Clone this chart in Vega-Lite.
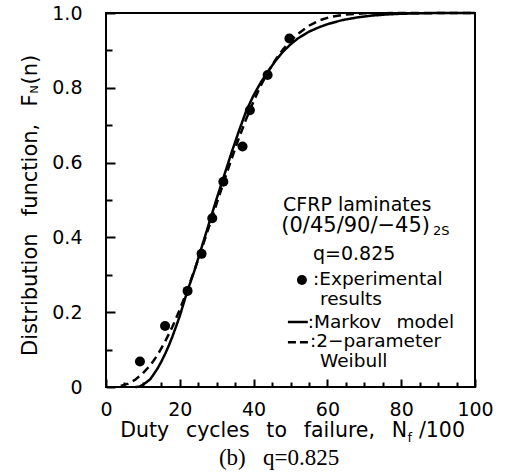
{
  "$schema": "https://vega.github.io/schema/vega-lite/v6.json",
  "width": 369,
  "height": 374,
  "autosize": {"type": "none"},
  "padding": {"left": 106, "top": 13, "right": 31, "bottom": 87},
  "background": "white",
  "config": {
    "view": {"stroke": "black", "strokeWidth": 2},
    "axis": {"labelFont": "DejaVu Sans", "labelFontSize": 19, "labelColor": "black", "tickColor": "black", "tickWidth": 2, "domain": false, "grid": false, "title": null, "labelFlush": false, "labelOverlap": false, "labelBound": false},
    "text": {"font": "DejaVu Sans", "color": "black"}
  },
  "datasets": {
    "one": [{}],
    "exp": [
      {"n": 9.2, "F": 0.068}, {"n": 16.0, "F": 0.163}, {"n": 22.1, "F": 0.257}, {"n": 25.9, "F": 0.356},
      {"n": 28.8, "F": 0.451}, {"n": 31.8, "F": 0.549}, {"n": 37.0, "F": 0.643}, {"n": 39.0, "F": 0.74},
      {"n": 43.8, "F": 0.834}, {"n": 49.7, "F": 0.932}
    ],
    "curves": [
      {"model": "Markov", "n": 8, "F": 0}, {"model": "Markov", "n": 9, "F": 0.001}, {"model": "Markov", "n": 10, "F": 0.006},
      {"model": "Markov", "n": 11, "F": 0.013}, {"model": "Markov", "n": 12, "F": 0.021}, {"model": "Markov", "n": 13, "F": 0.035},
      {"model": "Markov", "n": 14, "F": 0.05}, {"model": "Markov", "n": 15, "F": 0.068}, {"model": "Markov", "n": 16, "F": 0.088},
      {"model": "Markov", "n": 17, "F": 0.11}, {"model": "Markov", "n": 18, "F": 0.135}, {"model": "Markov", "n": 19, "F": 0.162},
      {"model": "Markov", "n": 20, "F": 0.19}, {"model": "Markov", "n": 22, "F": 0.255}, {"model": "Markov", "n": 24, "F": 0.312},
      {"model": "Markov", "n": 26, "F": 0.376}, {"model": "Markov", "n": 28, "F": 0.44}, {"model": "Markov", "n": 30, "F": 0.504},
      {"model": "Markov", "n": 32, "F": 0.565}, {"model": "Markov", "n": 34, "F": 0.626}, {"model": "Markov", "n": 36, "F": 0.684},
      {"model": "Markov", "n": 38, "F": 0.738}, {"model": "Markov", "n": 40, "F": 0.78}, {"model": "Markov", "n": 42, "F": 0.815},
      {"model": "Markov", "n": 44, "F": 0.845}, {"model": "Markov", "n": 46, "F": 0.873}, {"model": "Markov", "n": 48, "F": 0.897},
      {"model": "Markov", "n": 50, "F": 0.916}, {"model": "Markov", "n": 52, "F": 0.932}, {"model": "Markov", "n": 55, "F": 0.95},
      {"model": "Markov", "n": 58, "F": 0.963}, {"model": "Markov", "n": 60, "F": 0.97}, {"model": "Markov", "n": 64, "F": 0.981},
      {"model": "Markov", "n": 68, "F": 0.988}, {"model": "Markov", "n": 72, "F": 0.993}, {"model": "Markov", "n": 76, "F": 0.996},
      {"model": "Markov", "n": 80, "F": 0.998}, {"model": "Markov", "n": 85, "F": 0.999}, {"model": "Markov", "n": 90, "F": 1.0},
      {"model": "Markov", "n": 100, "F": 1.0},
      {"model": "Weibull", "n": 4, "F": 0.003}, {"model": "Weibull", "n": 6, "F": 0.009}, {"model": "Weibull", "n": 8, "F": 0.02},
      {"model": "Weibull", "n": 10, "F": 0.037}, {"model": "Weibull", "n": 12, "F": 0.058}, {"model": "Weibull", "n": 14, "F": 0.086},
      {"model": "Weibull", "n": 16, "F": 0.121}, {"model": "Weibull", "n": 18, "F": 0.161}, {"model": "Weibull", "n": 20, "F": 0.207},
      {"model": "Weibull", "n": 22, "F": 0.258}, {"model": "Weibull", "n": 24, "F": 0.313}, {"model": "Weibull", "n": 26, "F": 0.371},
      {"model": "Weibull", "n": 28, "F": 0.431}, {"model": "Weibull", "n": 30, "F": 0.491}, {"model": "Weibull", "n": 32, "F": 0.551},
      {"model": "Weibull", "n": 34, "F": 0.609}, {"model": "Weibull", "n": 36, "F": 0.665}, {"model": "Weibull", "n": 38, "F": 0.717},
      {"model": "Weibull", "n": 40, "F": 0.764}, {"model": "Weibull", "n": 42, "F": 0.807}, {"model": "Weibull", "n": 44, "F": 0.844},
      {"model": "Weibull", "n": 46, "F": 0.876}, {"model": "Weibull", "n": 48, "F": 0.903}, {"model": "Weibull", "n": 50, "F": 0.926},
      {"model": "Weibull", "n": 52, "F": 0.944}, {"model": "Weibull", "n": 55, "F": 0.966}, {"model": "Weibull", "n": 58, "F": 0.981},
      {"model": "Weibull", "n": 61, "F": 0.99}, {"model": "Weibull", "n": 65, "F": 0.996}, {"model": "Weibull", "n": 70, "F": 0.999},
      {"model": "Weibull", "n": 80, "F": 1.0}, {"model": "Weibull", "n": 100, "F": 1.0}
    ]
  },
  "resolve": {"axis": {"x": "independent", "y": "independent"}},
  "layer": [
    {
      "data": {"name": "exp"},
      "mark": {"type": "point", "filled": true, "color": "black", "opacity": 1, "size": 100},
      "encoding": {
        "x": {"field": "n", "type": "quantitative", "scale": {"domain": [0, 100], "nice": false, "zero": false},
          "axis": {"orient": "bottom", "values": [0, 20, 40, 60, 80, 100], "tickSize": -8, "labelPadding": 21}},
        "y": {"field": "F", "type": "quantitative", "scale": {"domain": [0, 1], "nice": false, "zero": false},
          "axis": {"orient": "left", "values": [0, 0.2, 0.4, 0.6, 0.8, 1], "tickSize": -9, "labelPadding": 33,
            "labelExpr": "datum.value == 0 ? '0' : format(datum.value, '.1f')"}}
      }
    },
    {
      "data": {"name": "curves"},
      "mark": {"type": "line", "color": "black", "strokeWidth": 2.5},
      "encoding": {
        "x": {"field": "n", "type": "quantitative",
          "axis": {"orient": "bottom", "values": [5, 10, 15, 25, 30, 35, 45, 50, 55, 65, 70, 75, 85, 90, 95], "tickSize": -5, "labels": false}},
        "y": {"field": "F", "type": "quantitative",
          "axis": {"orient": "left", "values": [0.1, 0.3, 0.5, 0.7, 0.9], "tickSize": -6, "labels": false}},
        "strokeDash": {"field": "model", "type": "nominal", "scale": {"domain": ["Markov", "Weibull"], "range": [[1, 0], [8, 5]]}, "legend": null},
        "order": {"field": "n", "type": "quantitative"}
      }
    },
    {
      "data": {"name": "one"},
      "layer": [
        {
          "mark": {"type": "text", "text": "Distribution\u2002 function,\u2002 F", "angle": 270, "align": "right", "baseline": "alphabetic", "fontSize": 21},
          "encoding": {"x": {"datum": -18.7, "axis": null}, "y": {"datum": 0.782, "axis": null}}
        },
        {
          "mark": {"type": "text", "text": "N", "angle": 270, "align": "left", "baseline": "alphabetic", "fontSize": 11},
          "encoding": {"x": {"datum": -18.3, "axis": null}, "y": {"datum": 0.785, "axis": null}}
        },
        {
          "mark": {"type": "text", "text": "(n)", "angle": 270, "align": "left", "baseline": "alphabetic", "fontSize": 21},
          "encoding": {"x": {"datum": -18.7, "axis": null}, "y": {"datum": 0.809, "axis": null}}
        },
        {
          "mark": {"type": "text", "text": "Duty\u2002 cycles\u2002 to\u2002 failure,\u2002 N", "align": "right", "baseline": "alphabetic", "fontSize": 20.5},
          "encoding": {"x": {"datum": 81.6, "axis": null}, "y": {"datum": -0.134, "axis": null}}
        },
        {
          "mark": {"type": "text", "text": "f", "align": "left", "baseline": "alphabetic", "fontSize": 13},
          "encoding": {"x": {"datum": 81.7, "axis": null}, "y": {"datum": -0.147, "axis": null}}
        },
        {
          "mark": {"type": "text", "text": "/100", "align": "left", "baseline": "alphabetic", "fontSize": 20.5},
          "encoding": {"x": {"datum": 84.8, "axis": null}, "y": {"datum": -0.134, "axis": null}}
        },
        {
          "mark": {"type": "text", "text": "(b)\u2002 q=0.825", "align": "center", "baseline": "alphabetic", "fontSize": 23, "font": "Liberation Serif"},
          "encoding": {"x": {"datum": 46.9, "axis": null}, "y": {"datum": -0.2086, "axis": null}}
        },
        {
          "mark": {"type": "text", "text": "CFRP laminates", "align": "left", "baseline": "alphabetic", "fontSize": 19},
          "encoding": {"x": {"datum": 47.97, "axis": null}, "y": {"datum": 0.4706, "axis": null}}
        },
        {
          "mark": {"type": "text", "text": "(0/45/90/−45)", "align": "left", "baseline": "alphabetic", "fontSize": 21},
          "encoding": {"x": {"datum": 47.5, "axis": null}, "y": {"datum": 0.4144, "axis": null}}
        },
        {
          "mark": {"type": "text", "text": "2S", "align": "left", "baseline": "alphabetic", "fontSize": 13},
          "encoding": {"x": {"datum": 88.6, "axis": null}, "y": {"datum": 0.406, "axis": null}}
        },
        {
          "mark": {"type": "text", "text": "q=0.825", "align": "left", "baseline": "alphabetic", "fontSize": 19},
          "encoding": {"x": {"datum": 56.1, "axis": null}, "y": {"datum": 0.3396, "axis": null}}
        },
        {
          "mark": {"type": "point", "filled": true, "color": "black", "opacity": 1, "size": 100},
          "encoding": {"x": {"datum": 53.1, "axis": null}, "y": {"datum": 0.286, "axis": null}}
        },
        {
          "mark": {"type": "text", "text": ":Experimental", "align": "left", "baseline": "alphabetic", "fontSize": 18.5},
          "encoding": {"x": {"datum": 56.1, "axis": null}, "y": {"datum": 0.2727, "axis": null}}
        },
        {
          "mark": {"type": "text", "text": "results", "align": "left", "baseline": "alphabetic", "fontSize": 18.5},
          "encoding": {"x": {"datum": 58.0, "axis": null}, "y": {"datum": 0.2193, "axis": null}}
        },
        {
          "mark": {"type": "rule", "color": "black", "strokeWidth": 2.5},
          "encoding": {"x": {"datum": 49.3, "axis": null}, "x2": {"datum": 54.7}, "y": {"datum": 0.1738, "axis": null}}
        },
        {
          "mark": {"type": "text", "text": ":Markov\u2002 model", "align": "left", "baseline": "alphabetic", "fontSize": 18.5},
          "encoding": {"x": {"datum": 54.7, "axis": null}, "y": {"datum": 0.159, "axis": null}}
        },
        {
          "mark": {"type": "rule", "color": "black", "strokeWidth": 2.5, "strokeDash": [8, 4]},
          "encoding": {"x": {"datum": 49.3, "axis": null}, "x2": {"datum": 54.9}, "y": {"datum": 0.1195, "axis": null}}
        },
        {
          "mark": {"type": "text", "text": ":2−parameter", "align": "left", "baseline": "alphabetic", "fontSize": 18.5},
          "encoding": {"x": {"datum": 55.3, "axis": null}, "y": {"datum": 0.106, "axis": null}}
        },
        {
          "mark": {"type": "text", "text": "Weibull", "align": "left", "baseline": "alphabetic", "fontSize": 18.5},
          "encoding": {"x": {"datum": 58.0, "axis": null}, "y": {"datum": 0.0533, "axis": null}}
        }
      ]
    }
  ]
}
